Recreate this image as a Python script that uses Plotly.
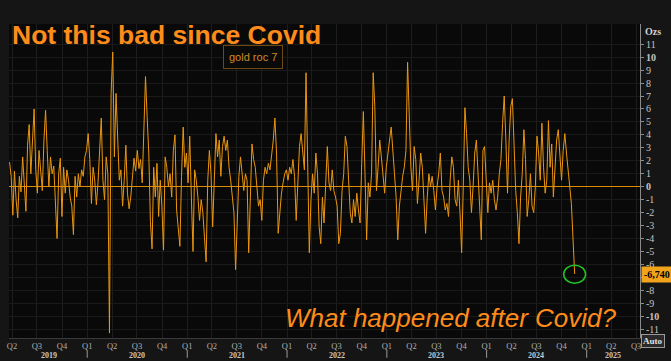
import pandas as pd
import plotly.graph_objects as go

# ---- data ----
series_name = "gold roc 7"
start_date = "2019-03-23"
end_date = "2024-11-18"
roc_values = [
    1.9, 0.8, -2.2, 1.2, -1.0, -2.4, 0.8, -0.4, 2.3, 0.3,
    -1.9, 3.2, 4.8, 1.0, 3.6, 6.0, 1.3, -0.5, 2.8, 0.8,
    -0.3, 3.6, 5.9, 2.8, 0.0, 2.3, 1.0, 1.6, -2.0, -4.0, 1.0,
    2.2, -2.3, 1.5, -0.5, 1.3, 0.5, -0.8, -1.5, -3.7, 0.8,
    -0.8, 1.0, 0.0, 1.3, 0.8, 2.3, 2.8, 4.1, 2.1, -1.3,
    1.5, 0.5, -1.4, 0.3, 2.8, 5.3, 0.5, -1.0, 2.3, 1.0,
    -11.3, 7.2, 10.4, 2.3, 7.2, 3.6, 0.5, 1.3, -1.5,
    0.5, 3.2, -0.5, -1.7, -0.8, 0.8, 2.2, 1.2, 2.8, 1.4,
    2.1, 0.3, 4.9, 8.5, 5.4, 2.6, -2.7, -4.8,
    # 2020 H2 - 2021
    1.5, -0.8, 1.8, -2.3, 0.5, -1.5, -4.9, 2.3, 1.5,
    0.0, 1.0, -0.8, 2.8, 4.0, -1.8, -3.3, -4.6, 0.8, 4.6,
    1.5, 2.6, 0.3, 3.9, -0.8, -5.0, 1.3, 0.5, -0.8, -2.6,
    -1.0, -2.0, -3.9, -5.8, 0.5, 2.8, 1.0, -3.1, 0.5, 4.1,
    2.3, 3.6, 0.8, 3.1, 3.9, 2.8, 3.6, 1.5, 0.5, -0.8,
    -2.0, -6.4, -2.8, 0.8, 2.3, 1.0, -0.3, 1.0, 0.5, -5.1,
    -1.5, 3.3, 2.1, 1.5, 0.0, -1.5, -1.0, -2.6, 0.5, 1.5,
    1.0, 1.8, 1.3, 2.3, 3.6, 5.3, 2.6, -3.6, -2.0, -0.5,
    0.3, 1.0, 1.3, 0.5, 1.5, 1.0, 2.1,
    # 2022 - 2023
    0.8, -2.6, 0.5, 3.1, 4.1, 2.6, 1.3, 8.8, 1.5,
    -5.1, -1.0, 1.0, -0.5, 2.6, 1.0, -3.1, -4.4, -0.8, -2.8,
    1.0, 3.1, 0.3, -0.3, 1.3, -0.3, -0.8, -1.5, -4.4, -3.6,
    -0.3, 1.0, 3.9, 3.1, 0.5, -2.0, -2.8, -1.0, -2.3, -0.5,
    -1.8, -2.8, 1.8, 5.8, 1.0, -4.1, 0.3, -0.8, 1.0, 8.8,
    6.2, -0.3, 1.5, 3.6, 2.3, 1.0, -0.5, 1.5, 2.8, 3.6,
    4.6, 2.3, 1.0, -0.8, -4.1, -1.5, -0.3, 0.8, 1.5, 2.8,
    9.6, 4.9, 1.5, -0.3, 3.1, 2.1, -1.3, 0.5, 2.6, 1.5,
    -1.5, -3.6, -0.8, 1.0, 0.0, 0.8, -0.3,
    # 2023 Q4 - 2024
    -1.8, 0.0, 1.0, 2.6, -0.3, -0.8, -1.8, -1.3, -2.3,
    0.5, 2.3, 1.5, -1.0, -1.5, 0.5, -2.0, -5.1, 0.0, 6.1,
    4.1, 1.5, 0.5, -2.0, 0.0, 2.6, 3.6, 1.5, -1.5, -4.1,
    2.8, 3.1, 0.5, -2.0, 0.3, -0.5, 0.5, -1.0, -1.8, -0.8,
    1.0, 2.1, 4.9, 7.0, 3.6, -0.5, 3.6, 6.2, 6.8, 2.8,
    -0.3, -2.0, -4.4, -0.8, 1.0, 4.4, 2.1, -2.3, -1.0, 1.0,
    -1.5, -2.0, 0.0, 3.9, 2.6, 0.5, 4.9, 1.5, -0.5, 0.5,
    5.1, 1.5, 3.3, -0.8, 1.0, 3.6, 4.4, 2.3, 0.5, 2.8,
    4.1, 2.6, 1.5, 0.0, -1.3, -4.1, -6.74,
]
quarter_ticks = pd.date_range("2019-04-01", "2025-07-01", freq="QS")
quarter_labels = [f"Q{(d.month - 1) // 3 + 1}" for d in quarter_ticks]
year_labels = ["2019", "2020", "2021", "2022", "2023", "2024", "2025"]
year_label_dates = ["2019-08-15", "2020-07-01", "2021-07-01", "2022-07-01",
                    "2023-07-01", "2024-07-01", "2025-04-08"]
year_starts = ["2020-01-01", "2021-01-01", "2022-01-01", "2023-01-01",
               "2024-01-01", "2025-01-01"]
y_ticks = list(range(-11, 12))
title_text = "Not this bad since Covid"
sub_text = "What happened after Covid?"

dates = pd.date_range(start_date, end_date, periods=len(roc_values))
last_date = dates[-1]
last_val = roc_values[-1]

ORANGE = "#ff8c1a"
LINE = "#eb960e"
AXIS_FONT = "Liberation Serif"

fig = go.Figure()
fig.add_trace(go.Scatter(x=dates, y=roc_values, mode="lines", name=series_name,
                         line=dict(color=LINE, width=1), showlegend=False))

y_text = []
for v in y_ticks:
    if v in (10, 0, -10):
        y_text.append(f"<b>{v}</b>")
    elif v == -7:
        y_text.append("")  # hidden behind the last-value label in the reference
    else:
        y_text.append(str(v))

fig.update_layout(
    width=671, height=361,
    margin=dict(l=7, r=31, t=24, b=23),
    paper_bgcolor="#151515",
    plot_bgcolor="#090909",
    xaxis=dict(
        range=["2019-03-21", "2025-07-15"],
        tickvals=quarter_ticks, ticktext=quarter_labels,
        tickfont=dict(family=AXIS_FONT, size=8.5, color="#b0b0b0"),
        showgrid=True, gridcolor="#1d1d1d", gridwidth=1,
        showline=True, linecolor="#3a3a3a", linewidth=1,
        ticks="", ticklen=0, zeroline=False,
    ),
    yaxis=dict(
        side="right", range=[-11.68, 12.56],
        tickvals=y_ticks, ticktext=y_text,
        tickfont=dict(family=AXIS_FONT, size=10, color="#c4c4c4"),
        showgrid=True, gridcolor="#1a1a1a", gridwidth=1,
        showline=True, linecolor="#8a8a8a", linewidth=1,
        ticks="outside", ticklen=3, tickcolor="#8a8a8a",
        zeroline=True, zerolinecolor="#e08a00", zerolinewidth=1,
    ),
)

# title and commentary
fig.add_annotation(text=f"<b>{title_text}</b>", xref="paper", yref="paper",
                   x=0.0, y=0.965, xanchor="left", yanchor="middle", xshift=1, showarrow=False,
                   font=dict(family="Liberation Sans", size=26.5, color=ORANGE))
fig.add_annotation(text=f"<i>{sub_text}</i>", xref="paper", yref="paper",
                   x=0.434, y=0.064, xanchor="left", yanchor="middle", showarrow=False,
                   font=dict(family="Liberation Sans", size=26, color=ORANGE))
# legend box
fig.add_annotation(text=series_name, xref="paper", yref="paper",
                   x=0.387, y=0.895, xanchor="center", yanchor="middle", showarrow=False,
                   font=dict(family="Liberation Sans", size=11, color="#d08a22"),
                   bordercolor="#6e4a12", borderwidth=1, borderpad=5, bgcolor="#0a0a0a")
# Ozs unit label
fig.add_annotation(text="<b>Ozs</b>", xref="paper", yref="paper", x=1, y=0.975,
                   xanchor="left", yanchor="middle", xshift=3, showarrow=False,
                   font=dict(family=AXIS_FONT, size=10, color="#d0d0d0"))
# Auto box
fig.add_annotation(text="<b>Auto</b>", xref="paper", yref="paper", x=1, y=-0.011,
                   xanchor="left", yanchor="middle", xshift=1, showarrow=False,
                   font=dict(family=AXIS_FONT, size=9, color="#e0e0e0"),
                   bordercolor="#9a9a9a", borderwidth=1, borderpad=1, bgcolor="#2a2a2a")
# last value label
fig.add_annotation(text=f"<b>{last_val:.3f}</b>".replace(".", ","), xref="paper", yref="y",
                   x=1, y=last_val, xanchor="left", yanchor="middle", xshift=1, showarrow=False,
                   font=dict(family=AXIS_FONT, size=10, color="#000000"),
                   bgcolor="#f2a31c", borderpad=2)
# green circle around the last point
fig.add_shape(type="circle", xref="x", yref="y",
              x0=last_date - pd.Timedelta(days=40), x1=last_date + pd.Timedelta(days=40),
              y0=last_val - 0.72, y1=last_val + 0.68,
              line=dict(color="#22c322", width=1.5))
# year labels
for d, t in zip(year_label_dates, year_labels):
    fig.add_annotation(text=f"<b>{t}</b>", xref="x", yref="paper", x=d, y=-0.056,
                       xanchor="center", yanchor="middle", showarrow=False,
                       font=dict(family=AXIS_FONT, size=8, color="#c8c8c8"))
for d in year_starts:
    fig.add_shape(type="line", xref="x", yref="paper", x0=d, x1=d, y0=-0.04, y1=-0.063,
                  line=dict(color="#9a9a9a", width=1))

fig.write_html("out.html", config={"displayModeBar": False},
               post_script="document.body.style.margin='0';document.body.style.overflow='hidden';")
